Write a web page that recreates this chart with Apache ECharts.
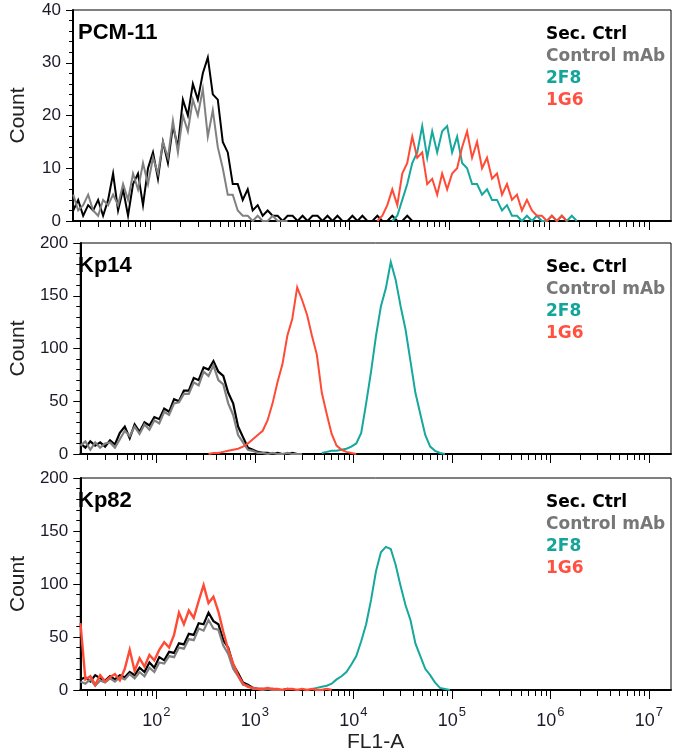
<!DOCTYPE html>
<html><head><meta charset="utf-8">
<script src="https://cdn.jsdelivr.net/npm/echarts@6/dist/echarts.min.js"></script>
<style>html,body{margin:0;padding:0;background:#fff}#c{width:675px;height:754px}</style>
</head><body><div id="c"></div>
<script>
// ---------- labels ----------
const panelNames = ['PCM-11', 'Kp14', 'Kp82'];
const seriesNames = ['Sec. Ctrl', 'Control mAb', '2F8', '1G6'];
const seriesColors = ['#000000', '#808080', '#16a79d', '#ff4b36'];
const legendColors = ['#000000', '#777777', '#13a49a', '#ff5040'];
const yMaxes = [40, 200, 200];
const ySteps = [10, 50, 50];
const xAxisName = 'FL1-A';
const yAxisName = 'Count';
// x axis range (log10 of FL1-A)
const xMinLog = 1.228, xMaxLog = 7.2248;
const binWidth = 0.05; // histogram bin width, decades

// ---------- data: counts per bin, starting at the given log10 bin centre ----------
// Panel 1: PCM-11
const p1SecStart = 1.23;
const p1Sec = [2,4,1,3,2,4,1,4,9,2,6,1,7,9,3,10,13,8,15,11,18,14,23,20,26,23,28,31,24,23,15,13,7,7,4,6,2,3,1,2,1,1,0,1,1,0,1,0,1,1,0,1,0,1,0,0,1,0,1,0,0,1,0,0,1,0,0,1,0,0,0];
const p1CtrlStart = 1.23;
const p1Ctrl = [5,2,3,5,2,1,4,3,5,3,7,4,9,6,11,7,12,9,15,12,19,13,20,17,23,20,25,16,21,14,10,5,5,2,1,1,0,1,0,0,1,0,0,0];
const p12F8Start = 4.43;
const p12F8 = [0,1,4,7,11,13,18,12,17,13,17,18,13,16,11,10,7,7,5,6,4,4,2,3,1,1,0,1,0,1,0,0,1,0,1,0,1,0];
const p11G6Start = 4.28;
const p11G6 = [0,1,3,6,3,9,11,16,12,13,7,8,5,9,6,9,10,14,17,12,15,10,12,8,9,5,7,4,5,2,4,2,1,1,0,1,0,1,0];
// Panel 2: Kp14
const p2SecStart = 1.23;
const p2Sec = [10,6,12,8,11,7,13,9,20,26,15,28,21,30,27,35,33,43,40,52,50,60,60,72,70,82,80,88,78,74,58,48,26,16,6,4,2,1,1,0,1,0,0,1,0,0];
const p2CtrlStart = 1.23;
const p2Ctrl = [8,12,4,11,6,10,11,6,14,22,17,26,19,28,23,32,29,40,37,48,49,57,57,68,65,78,74,84,70,66,48,37,18,11,4,3,1,1,0,1,0,0,1,0,0,0];
const p22F8Start = 3.68;
const p22F8 = [1,2,3,3,4,5,7,10,20,48,78,112,140,157,182,165,140,118,88,58,38,18,7,3,1,0];
const p21G6Start = 2.53;
const p21G6 = [0,1,1,2,3,4,5,7,10,14,18,22,32,48,68,85,112,128,158,146,132,112,94,58,38,19,8,4,2,1,0];
// Panel 3: Kp82
const p3SecStart = 1.23;
const p3Sec = [10,12,8,14,11,9,13,10,14,12,17,14,21,17,26,21,31,28,36,35,44,43,53,52,63,62,73,65,62,47,40,24,16,7,5,2,1,1,0,1,0,0,1,0];
const p3CtrlStart = 1.23;
const p3Ctrl = [8,6,10,4,9,7,11,8,12,10,15,11,17,13,21,17,26,25,32,31,40,39,48,47,58,56,66,58,57,42,34,20,13,5,4,1,1,0,1,0,0,0];
const p32F8Start = 3.58;
const p32F8 = [1,2,3,4,6,10,13,17,24,32,46,62,85,112,130,135,133,118,98,80,66,44,32,20,14,7,2,1,0];
const p31G6Start = 1.23;
const p31G6 = [63,10,13,5,14,8,12,15,9,20,38,18,30,22,33,28,38,45,40,52,73,62,75,68,84,99,82,88,74,55,38,25,14,6,3,2,1,1,2,1,1,0,1,1,0,1,0,1,0,0,1,0];

const panels = [
  [[p1SecStart, p1Sec], [p1CtrlStart, p1Ctrl], [p12F8Start, p12F8], [p11G6Start, p11G6]],
  [[p2SecStart, p2Sec], [p2CtrlStart, p2Ctrl], [p22F8Start, p22F8], [p21G6Start, p21G6]],
  [[p3SecStart, p3Sec], [p3CtrlStart, p3Ctrl], [p32F8Start, p32F8], [p31G6Start, p31G6]]
];
// line widths per panel / series (style)
const lineWidths = [[2, 2, 2, 2], [2.2, 2.2, 2, 2], [2.2, 2.2, 2, 2.4]];

// ---------- layout ----------
const grids = [
  {left: 71, top: 10, width: 600, height: 211},
  {left: 71, top: 243, width: 600, height: 211},
  {left: 71, top: 478, width: 600, height: 212}
];
const FONT = 'Liberation Sans, Arial, sans-serif';

// log tick positions (axis decoration): k * 10^n inside range
const tickVals = [];
for (let n = 1; n <= 7; n++) {
  for (let k = 1; k <= 9; k++) {
    const lv = n + Math.log10(k);
    if (lv >= xMinLog && lv <= xMaxLog) tickVals.push([k * Math.pow(10, n), 0, k === 1 ? 1 : 0]);
  }
}

const option = {
  animation: false,
  backgroundColor: '#fff',
  grid: grids.map(g => Object.assign({show: true, borderColor: '#000', borderWidth: 1, containLabel: false}, g)),
  title: panelNames.map((t, i) => ({
    text: t, left: 78, top: grids[i].top + 12, padding: 0,
    textStyle: {fontFamily: FONT, fontWeight: 'bold', fontSize: 22, color: '#000'}
  })),
  legend: panelNames.map((t, i) => ({
    orient: 'vertical', left: 541, top: grids[i].top + 14, padding: 0,
    icon: 'none', itemWidth: 0, itemHeight: 22, itemGap: 0, selectedMode: false,
    textStyle: {fontFamily: 'DejaVu Sans', fontWeight: 'bold', fontSize: 17, lineHeight: 22},
    data: seriesNames.map((n, j) => ({name: n, textStyle: {color: legendColors[j]}}))
  })),
  xAxis: grids.map((g, i) => ({
    type: 'log', gridIndex: i, logBase: 10,
    min: Math.pow(10, xMinLog), max: Math.pow(10, xMaxLog),
    name: i === 2 ? xAxisName : '', nameLocation: 'middle', nameGap: 42,
    nameTextStyle: {fontFamily: FONT, fontSize: 21, color: '#222'},
    axisLine: {show: true, onZero: false, lineStyle: {color: '#000', width: 2}},
    axisTick: {show: false},
    minorTick: {show: false},
    splitLine: {show: false},
    axisLabel: {
      show: i === 2, margin: 16, showMinLabel: false, showMaxLabel: false,
      formatter: v => '{b|10}{s|' + Math.round(Math.log10(v)) + '}',
      rich: {
        b: {fontFamily: FONT, fontSize: 18, color: '#1a1a2a', lineHeight: 24, verticalAlign: 'bottom'},
        s: {fontFamily: FONT, fontSize: 13, color: '#1a1a2a', lineHeight: 8, verticalAlign: 'top', padding: [0, 0, 0, 1]}
      }
    }
  })),
  yAxis: grids.map((g, i) => ({
    type: 'value', gridIndex: i, min: 0, max: yMaxes[i], interval: ySteps[i],
    name: yAxisName, nameLocation: 'middle', nameGap: 44,
    nameTextStyle: {fontFamily: FONT, fontSize: 21, color: '#222'},
    axisLine: {show: true, lineStyle: {color: '#000', width: 2}},
    axisTick: {show: true, inside: false, length: 7, lineStyle: {color: '#000', width: 1}},
    minorTick: {show: true, splitNumber: 5, length: 4, lineStyle: {color: '#000', width: 1}},
    splitLine: {show: false},
    axisLabel: {margin: 12, fontFamily: FONT, fontSize: 17, color: '#1a1a2a'}
  })),
  series: []
};

panels.forEach((pd, pi) => {
  pd.forEach(([start, vals], si) => {
    option.series.push({
      name: seriesNames[si], type: 'line', xAxisIndex: pi, yAxisIndex: pi,
      symbol: 'none', showSymbol: false, silent: true, z: 2 + si,
      lineStyle: {color: seriesColors[si], width: lineWidths[pi][si], join: 'miter'},
      itemStyle: {color: seriesColors[si]},
      data: vals.map((c, k) => [Math.pow(10, start + k * binWidth), c])
    });
  });
  option.series.push({
    name: 'ticks' + pi, type: 'custom', xAxisIndex: pi, yAxisIndex: pi,
    silent: true, clip: false, z: 10,
    encode: {x: 0, y: 1},
    data: tickVals,
    renderItem: (params, api) => {
      const p = api.coord([api.value(0), 0]);
      const len = api.value(2) ? 8 : 5;
      const x = Math.round(p[0]) + 0.5;
      return {type: 'line', shape: {x1: x, y1: p[1] + 1, x2: x, y2: p[1] + 1 + len},
              style: {stroke: '#000', lineWidth: 1}};
    }
  });
});

const chart = echarts.init(document.getElementById('c'), null, {renderer: 'canvas'});
chart.setOption(option);
</script>
</body></html>
